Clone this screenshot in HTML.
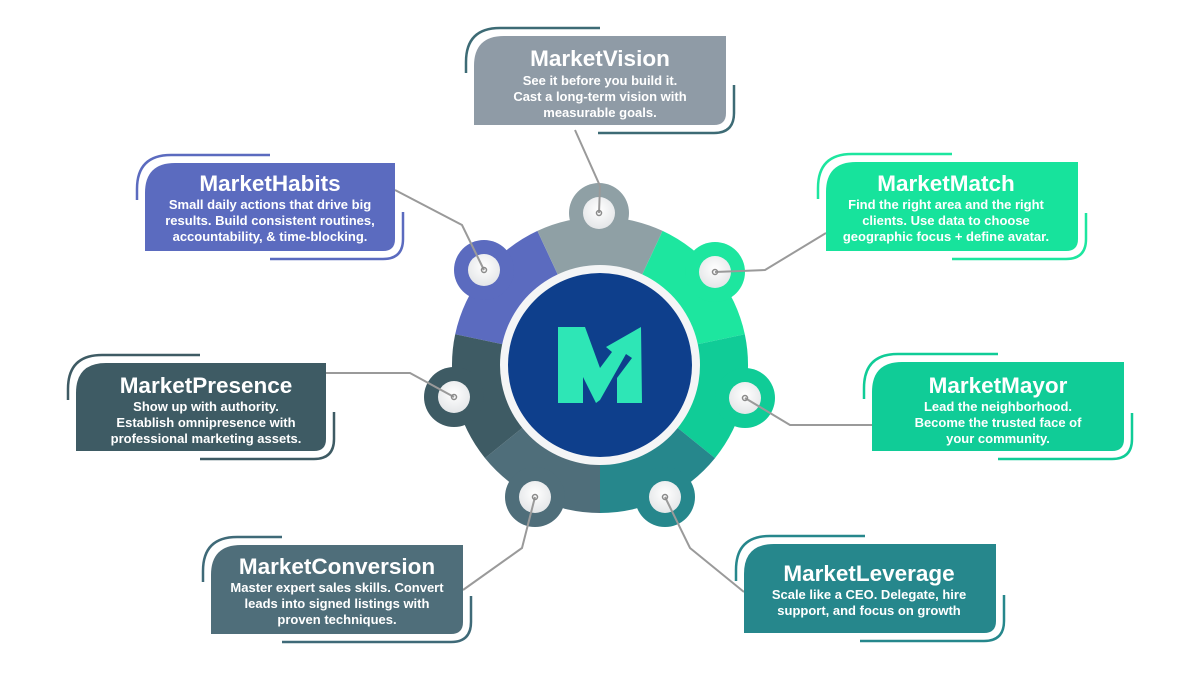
<!DOCTYPE html>
<html><head><meta charset="utf-8"><style>
html,body{margin:0;padding:0;background:#fff;}
svg{display:block;}
.t{font-family:"Liberation Sans",sans-serif;font-weight:bold;fill:#fff;text-anchor:middle;}
.h{font-size:22.5px;}
.b{font-size:13px;}
</style></head><body>
<svg width="1200" height="675" viewBox="0 0 1200 675" xmlns="http://www.w3.org/2000/svg">
<defs>
<radialGradient id="wg" cx="50%" cy="40%" r="60%"><stop offset="0" stop-color="#ffffff"/><stop offset="1" stop-color="#e4e6e8"/></radialGradient>
</defs>
<g>
<path d="M600,365 L455.2,334.2 A148,148 0 0 1 537.4,230.9 Z" fill="#5b6bbf"/>
<path d="M600,365 L537.4,230.9 A148,148 0 0 1 662.6,230.9 Z" fill="#8fa0a5"/>
<path d="M600,365 L662.6,230.9 A148,148 0 0 1 744.8,334.2 Z" fill="#1de69f"/>
<path d="M600,365 L744.8,334.2 A148,148 0 0 1 715,458.1 Z" fill="#10cc97"/>
<path d="M600,365 L715,458.1 A148,148 0 0 1 600,513 Z" fill="#26878c"/>
<path d="M600,365 L600,513 A148,148 0 0 1 485,458.1 Z" fill="#4f6e7a"/>
<path d="M600,365 L485,458.1 A148,148 0 0 1 455.2,334.2 Z" fill="#3e5b64"/>
<circle cx="599" cy="213" r="30" fill="#8fa0a5"/>
<circle cx="484" cy="270" r="30" fill="#5b6bbf"/>
<circle cx="715" cy="272" r="30" fill="#1de69f"/>
<circle cx="454" cy="397" r="30" fill="#3e5b64"/>
<circle cx="745" cy="398" r="30" fill="#10cc97"/>
<circle cx="535" cy="497" r="30" fill="#4f6e7a"/>
<circle cx="665" cy="497" r="30" fill="#26878c"/>
<g fill="url(#wg)">
<circle cx="599" cy="213" r="16"/><circle cx="484" cy="270" r="16"/><circle cx="715" cy="272" r="16"/>
<circle cx="454" cy="397" r="16"/><circle cx="745" cy="398" r="16"/><circle cx="535" cy="497" r="16"/><circle cx="665" cy="497" r="16"/>
</g>
<circle cx="600" cy="365" r="100" fill="#f4f5f6"/>
<circle cx="600" cy="365" r="92" fill="#0e3f8c"/>
<polygon points="558,403 558,327 585,327 600,368 612,352 606,347 641,327 642,403 617,403 617,378 632,358 626,354 600,400 596,403 583,377 583,403" fill="#2ee6b6"/>
</g>
<g stroke="#9a9a9a" stroke-width="2" fill="none">
<polyline points="599,213 600,186 575,130"/>
<polyline points="484,270 462,225 395,190"/>
<polyline points="715,272 765,270 826,233"/>
<polyline points="454,397 410,373 326,373"/>
<polyline points="745,398 790,425 872,425"/>
<polyline points="535,497 522,548 463,590"/>
<polyline points="665,497 690,548 744,592"/>
</g>
<g fill="none" stroke="#8a8a8a" stroke-width="1.5">
<circle cx="599" cy="213" r="2.5"/><circle cx="484" cy="270" r="2.5"/><circle cx="715" cy="272" r="2.5"/>
<circle cx="454" cy="397" r="2.5"/><circle cx="745" cy="398" r="2.5"/><circle cx="535" cy="497" r="2.5"/><circle cx="665" cy="497" r="2.5"/>
</g>
<g>
<path d="M474,125 V66 Q474,36 504,36 H726 V113 Q726,125 714,125 Z" fill="#8f9ba6"/>
<path d="M466,73 V62 Q466,28 500,28 H600" fill="none" stroke="#3d6b75" stroke-width="2.5"/>
<path d="M734,85 V113 Q734,133 714,133 H598" fill="none" stroke="#3d6b75" stroke-width="2.5"/>
<text class="t h" x="600" y="66">MarketVision</text>
<text class="t b" x="600" y="85">See it before you build it.</text>
<text class="t b" x="600" y="101">Cast a long-term vision with</text>
<text class="t b" x="600" y="117">measurable goals.</text>

<path d="M145,251 V193 Q145,163 175,163 H395 V239 Q395,251 383,251 Z" fill="#5b6bbf"/>
<path d="M137,200 V189 Q137,155 171,155 H270" fill="none" stroke="#5b6bbf" stroke-width="2.5"/>
<path d="M403,212 V239 Q403,259 383,259 H270" fill="none" stroke="#5b6bbf" stroke-width="2.5"/>
<text class="t h" x="270" y="191">MarketHabits</text>
<text class="t b" x="270" y="209">Small daily actions that drive big</text>
<text class="t b" x="270" y="225">results. Build consistent routines,</text>
<text class="t b" x="270" y="241">accountability, &amp; time-blocking.</text>

<path d="M826,251 V192 Q826,162 856,162 H1078 V239 Q1078,251 1066,251 Z" fill="#17e39c"/>
<path d="M818,199 V188 Q818,154 852,154 H952" fill="none" stroke="#1de69f" stroke-width="2.5"/>
<path d="M1086,213 V239 Q1086,259 1066,259 H952" fill="none" stroke="#1de69f" stroke-width="2.5"/>
<text class="t h" x="946" y="191">MarketMatch</text>
<text class="t b" x="946" y="209">Find the right area and the right</text>
<text class="t b" x="946" y="225">clients. Use data to choose</text>
<text class="t b" x="946" y="241">geographic focus + define avatar.</text>

<path d="M76,451 V393 Q76,363 106,363 H326 V439 Q326,451 314,451 Z" fill="#3e5b64"/>
<path d="M68,400 V389 Q68,355 102,355 H200" fill="none" stroke="#3e5b64" stroke-width="2.5"/>
<path d="M334,412 V439 Q334,459 314,459 H200" fill="none" stroke="#3e5b64" stroke-width="2.5"/>
<text class="t h" x="206" y="393">MarketPresence</text>
<text class="t b" x="206" y="411">Show up with authority.</text>
<text class="t b" x="206" y="427">Establish omnipresence with</text>
<text class="t b" x="206" y="443">professional marketing assets.</text>

<path d="M872,451 V392 Q872,362 902,362 H1124 V439 Q1124,451 1112,451 Z" fill="#10cc97"/>
<path d="M864,399 V388 Q864,354 898,354 H998" fill="none" stroke="#10cc97" stroke-width="2.5"/>
<path d="M1132,413 V439 Q1132,459 1112,459 H998" fill="none" stroke="#10cc97" stroke-width="2.5"/>
<text class="t h" x="998" y="393">MarketMayor</text>
<text class="t b" x="998" y="411">Lead the neighborhood.</text>
<text class="t b" x="998" y="427">Become the trusted face of</text>
<text class="t b" x="998" y="443">your community.</text>

<path d="M211,634 V575 Q211,545 241,545 H463 V622 Q463,634 451,634 Z" fill="#4f6e7a"/>
<path d="M203,582 V571 Q203,537 237,537 H282" fill="none" stroke="#3f6a78" stroke-width="2.5"/>
<path d="M471,596 V622 Q471,642 451,642 H282" fill="none" stroke="#3f6a78" stroke-width="2.5"/>
<text class="t h" x="337" y="574">MarketConversion</text>
<text class="t b" x="337" y="592">Master expert sales skills. Convert</text>
<text class="t b" x="337" y="608">leads into signed listings with</text>
<text class="t b" x="337" y="624">proven techniques.</text>

<path d="M744,633 V574 Q744,544 774,544 H996 V621 Q996,633 984,633 Z" fill="#26878c"/>
<path d="M736,581 V570 Q736,536 770,536 H865" fill="none" stroke="#26878c" stroke-width="2.5"/>
<path d="M1004,595 V621 Q1004,641 984,641 H860" fill="none" stroke="#26878c" stroke-width="2.5"/>
<text class="t h" x="869" y="581">MarketLeverage</text>
<text class="t b" x="869" y="599">Scale like a CEO. Delegate, hire</text>
<text class="t b" x="869" y="615">support, and focus on growth</text>
</g>
</svg>
</body></html>
